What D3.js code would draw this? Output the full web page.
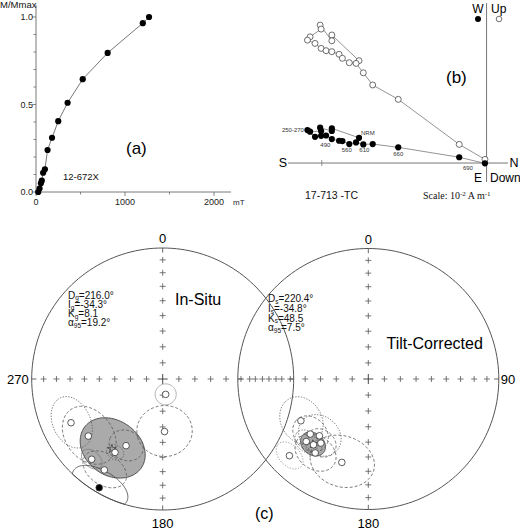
<!DOCTYPE html>
<html>
<head>
<meta charset="utf-8">
<script src="https://cdn.jsdelivr.net/npm/d3@7"></script>
<style>
  body { margin: 0; background: #fff; }
  svg { display: block; font-family: "Liberation Sans", Arial, sans-serif; }
</style>
</head>
<body>
<svg width="520" height="531"></svg>
<script>
// (a) IRM acquisition, 12-672X
const irmField = [25, 40, 55, 65, 80, 100, 130, 180, 250, 355, 525, 805, 1200, 1270];
const irmMag = [0.0, 0.02, 0.05, 0.065, 0.11, 0.13, 0.24, 0.31, 0.405, 0.51, 0.645, 0.795, 0.965, 1.0];
const irmYTicks = [0, 0.5, 1];
const irmXTicks = [0, 1000, 2000];

// (b) Zijderveld, 17-713 -TC, units of 10^-3 A/m
const zijNorth = [-7.74, -9.39, -9.39, -10.10, -10.04, -10.71, -10.87, -10.41, -10.04, -9.74,
  -9.39, -8.95, -8.75, -8.33, -7.92, -7.48, -6.91, -5.36, -1.66, -0.10];
const zijWest = [1.53, 2.10, 1.94, 2.14, 1.94, 1.90, 2.00, 1.59, 1.65, 1.67,
  1.45, 1.35, 1.33, 1.15, 1.25, 1.13, 1.15, 0.95, 0.35, -0.02];
const zijUp = [6.20, 7.76, 7.41, 8.36, 8.12, 7.65, 7.45, 7.25, 6.95, 6.81,
  6.75, 6.59, 6.35, 6.08, 6.04, 5.47, 4.73, 3.86, 1.13, 0.22];
const zijStepLabels = ["NRM", "", "", "", "", "", "250-270", "", "", "", "490", "", "", "560", "", "610", "", "660", "", "690"];

// (c) site mean directions
const insituDec = [244.5, 232.5, 208.8, 213.0, 221.5, 212.7, 210.3, 169.0, 178.0];
const insituInc = [-23.5, -29.2, -41.5, -33.6, -19.3, -18.6, 4.4, -80.3, -57.0];
const insituA95 = [14, 17, 10, 5, 6, 12, 14, 6.5, 16.5];
const insituMean = { dec: 216.0, inc: -34.3, k: 8.1, a95: 19.2 };

const tiltDec = [238.2, 225.8, 197.6, 226.5, 220.7, 224.8, 216.5, 219.8, 215.7];
const tiltInc = [-39.1, -16.8, -33.4, -38.6, -42.1, -33.0, -38.8, -34.7, -30.9];
const tiltA95 = [14, 8, 18, 11, 13, 7, 9, 5, 12];
const tiltMean = { dec: 220.4, inc: -34.8, k: 48.5, a95: 7.5 };

const netTicks = [10, 20, 30, 40, 50, 60, 70, 80];

const svg = d3.select("svg");
svg.append("rect").attr("width", 520).attr("height", 531).attr("fill", "#fff");

// ---------- (a) ----------
const drawIrm = function() {
  const x = d3.scaleLinear().domain([0, 2000]).range([36, 214]);
  const y = d3.scaleLinear().domain([0, 1]).range([192, 17]);
  const g = svg.append("g");

  g.append("line").attr("x1", x(0)).attr("x2", 231).attr("y1", y(0)).attr("y2", y(0))
    .attr("stroke", "#555").attr("stroke-width", 0.8);
  g.append("line").attr("x1", x(0)).attr("x2", x(0)).attr("y1", y(0)).attr("y2", 5)
    .attr("stroke", "#555").attr("stroke-width", 0.8);

  g.selectAll(".yt").data(d3.range(0, 11).map(i => i / 10)).enter().append("line")
    .attr("x1", d => x(0) - (irmYTicks.includes(d) ? 4 : 2.5)).attr("x2", x(0))
    .attr("y1", d => y(d)).attr("y2", d => y(d))
    .attr("stroke", "#555").attr("stroke-width", 0.7);
  g.selectAll(".xt").data(d3.range(0, 2001, 500)).enter().append("line")
    .attr("x1", d => x(d)).attr("x2", d => x(d))
    .attr("y1", y(0)).attr("y2", d => y(0) + (irmXTicks.includes(d) ? 4 : 2.5))
    .attr("stroke", "#555").attr("stroke-width", 0.7);

  g.selectAll(".yl").data(irmYTicks).enter().append("text")
    .attr("x", 33).attr("y", d => y(d) + 3.2).attr("text-anchor", "end")
    .attr("font-size", 9).attr("fill", "#222").text(d => d.toFixed(1));
  g.selectAll(".xl").data(irmXTicks).enter().append("text")
    .attr("x", d => x(d)).attr("y", 205).attr("text-anchor", "middle")
    .attr("font-size", 9).attr("fill", "#222").text(d => d);
  g.append("text").attr("x", 233).attr("y", 205).attr("font-size", 8).attr("fill", "#222").text("mT");
  g.append("text").attr("x", 0).attr("y", 8).attr("font-size", 9.5).attr("fill", "#111").text("M/Mmax");

  const pts = irmField.map((f, i) => [f, irmMag[i]]);
  g.append("path").datum(pts)
    .attr("d", d3.line().x(d => x(d[0])).y(d => y(d[1])))
    .attr("fill", "none").attr("stroke", "#555").attr("stroke-width", 0.8);
  g.selectAll("circle").data(pts).enter().append("circle")
    .attr("cx", d => x(d[0])).attr("cy", d => y(d[1])).attr("r", 3.1).attr("fill", "#000");

  g.append("text").attr("x", 126).attr("y", 154).attr("font-size", 17).text("(a)");
  g.append("text").attr("x", 63).attr("y", 180).attr("font-size", 9.5).attr("fill", "#111").text("12-672X");
};

// ---------- (b) ----------
const drawZij = function() {
  const x = d3.scaleLinear().domain([-12.05, 1.3]).range([288, 508]);
  const y = d3.scaleLinear().domain([-1.15, 9.7]).range([182, 3]);
  const g = svg.append("g");

  g.append("line").attr("x1", x(-12.05)).attr("x2", x(1.3)).attr("y1", y(0)).attr("y2", y(0))
    .attr("stroke", "#777").attr("stroke-width", 1);
  g.append("line").attr("x1", x(0)).attr("x2", x(0)).attr("y1", y(9.7)).attr("y2", y(-1.15))
    .attr("stroke", "#777").attr("stroke-width", 1);
  g.append("line").attr("x1", x(-10)).attr("x2", x(-10)).attr("y1", y(0) - 3).attr("y2", y(0) + 3)
    .attr("stroke", "#777").attr("stroke-width", 0.8);

  const line = d3.line().x(d => x(d[0])).y(d => y(d[1]));
  const hor = zijNorth.map((n, i) => [n, zijWest[i]]);
  const ver = zijNorth.map((n, i) => [n, zijUp[i]]);

  g.append("path").datum(ver).attr("d", line).attr("fill", "none").attr("stroke", "#666").attr("stroke-width", 0.7);
  g.append("path").datum(hor).attr("d", line).attr("fill", "none").attr("stroke", "#666").attr("stroke-width", 0.7);

  g.selectAll(".ver").data(ver).enter().append("circle")
    .attr("cx", d => x(d[0])).attr("cy", d => y(d[1])).attr("r", 3)
    .attr("fill", "#fff").attr("stroke", "#333").attr("stroke-width", 0.7);
  g.selectAll(".hor").data(hor).enter().append("circle")
    .attr("cx", d => x(d[0])).attr("cy", d => y(d[1])).attr("r", 3.1).attr("fill", "#000");

  const labelPos = {
    "NRM": [2, -3, "start"], "250-270": [-3.5, 2, "end"], "490": [-6.5, 7.5, "middle"],
    "560": [-2.5, 8, "middle"], "610": [1, 8, "middle"], "660": [0, 9, "middle"], "690": [-17, 7, "middle"]
  };
  zijStepLabels.forEach((t, i) => {
    if (!t) return;
    const p = labelPos[t];
    g.append("text").attr("x", x(zijNorth[i]) + p[0]).attr("y", y(zijWest[i]) + p[1])
      .attr("text-anchor", p[2]).attr("font-size", 6).attr("fill", "#333").text(t);
  });

  g.append("text").attr("x", 478).attr("y", 13).attr("text-anchor", "middle").attr("font-size", 12).text("W");
  g.append("text").attr("x", 491).attr("y", 13).attr("font-size", 12).text("Up");
  g.append("circle").attr("cx", 478).attr("cy", 19).attr("r", 3).attr("fill", "#000");
  g.append("circle").attr("cx", 499).attr("cy", 19).attr("r", 2.8).attr("fill", "#fff")
    .attr("stroke", "#333").attr("stroke-width", 0.7);
  g.append("text").attr("x", 478).attr("y", 182).attr("text-anchor", "middle").attr("font-size", 12).text("E");
  g.append("text").attr("x", 490).attr("y", 182).attr("font-size", 12).text("Down");
  g.append("text").attr("x", 283).attr("y", 167).attr("text-anchor", "middle").attr("font-size", 12.5).text("S");
  g.append("text").attr("x", 514).attr("y", 167).attr("text-anchor", "middle").attr("font-size", 12.5).text("N");
  g.append("text").attr("x", 446).attr("y", 83).attr("font-size", 17).text("(b)");
  g.append("text").attr("x", 305).attr("y", 199).attr("font-size", 10.5).attr("fill", "#111").text("17-713 -TC");

  const sc = g.append("text").attr("x", 423).attr("y", 199).attr("font-size", 10)
    .attr("font-family", "'Liberation Serif', 'Times New Roman', serif").attr("fill", "#111");
  sc.append("tspan").text("Scale: 10");
  sc.append("tspan").attr("dy", -3.5).attr("font-size", 7).text("-2");
  sc.append("tspan").attr("dy", 3.5).text(" A m");
  sc.append("tspan").attr("dy", -3.5).attr("font-size", 7).text("-1");
};

// ---------- (c) ----------
const toGeo = (dec, inc) => [180 - dec, Math.abs(inc)];

const drawNet = function(cx, cy, R, sites, mean, styles, opts) {
  const proj = d3.geoAzimuthalEqualArea().rotate([0, -90]).scale(R / Math.SQRT2)
    .translate([cx, cy]).clipAngle(90);
  const path = d3.geoPath(proj);
  const circle = d3.geoCircle().precision(3);
  const g = svg.append("g");

  g.append("path").attr("d", path({ type: "Sphere" }))
    .attr("fill", "none").attr("stroke", "#555").attr("stroke-width", 1);

  // crosses along the cardinal axes
  const crosses = [];
  [0, 90, 180, 270].forEach(dir => netTicks.forEach(inc => crosses.push(proj(toGeo(dir, inc)))));
  g.append("path")
    .attr("d", crosses.map(p => `M${p[0] - 3},${p[1]}H${p[0] + 3}M${p[0]},${p[1] - 3}V${p[1] + 3}`).join(""))
    .attr("stroke", "#555").attr("stroke-width", 0.8);
  g.append("path").attr("d", `M${cx - 5},${cy}H${cx + 5}M${cx},${cy - 5}V${cy + 5}`)
    .attr("stroke", "#333").attr("stroke-width", 0.9);
  [0, 90, 180, 270].forEach(dir => {
    const a = proj(toGeo(dir, 0));
    const b = proj(toGeo(dir, 4));
    g.append("line").attr("x1", a[0]).attr("y1", a[1]).attr("x2", b[0]).attr("y2", b[1])
      .attr("stroke", "#555").attr("stroke-width", 0.9);
  });

  // mean cone
  g.append("path").attr("d", path(circle.center(toGeo(mean.dec, mean.inc)).radius(mean.a95)()))
    .attr("fill", "#aaa").attr("stroke", "#444").attr("stroke-width", 0.9);

  // site cones
  sites.forEach((s, i) => {
    const st = styles[i];
    g.append("path").attr("d", path(circle.center(toGeo(s.dec, s.inc)).radius(s.a95)()))
      .attr("fill", "none").attr("stroke", st.c).attr("stroke-width", 0.8)
      .attr("stroke-dasharray", st.d);
  });

  const ms = proj(toGeo(mean.dec, mean.inc));
  g.append("path").attr("transform", `translate(${ms[0]},${ms[1]})`)
    .attr("d", d3.symbol(d3.symbolStar, 22)()).attr("fill", "none").attr("stroke", "#333").attr("stroke-width", 0.7);

  sites.forEach(s => {
    const p = proj(toGeo(s.dec, s.inc));
    g.append("circle").attr("cx", p[0]).attr("cy", p[1]).attr("r", 3.3)
      .attr("fill", s.inc >= 0 ? "#000" : "#fff").attr("stroke", "#333").attr("stroke-width", 0.8);
  });

  // labels
  g.append("text").attr("x", cx).attr("y", cy - R - 5).attr("text-anchor", "middle").attr("font-size", 13).text("0");
  g.append("text").attr("x", cx).attr("y", cy + R + 18).attr("text-anchor", "middle").attr("font-size", 13).text("180");
  if (opts.west) g.append("text").attr("x", cx - R - 3).attr("y", cy + 5).attr("text-anchor", "end").attr("font-size", 13).text("270");
  if (opts.east) g.append("text").attr("x", cx + R + 2).attr("y", cy + 5).attr("font-size", 13).text("90");

  g.append("text").attr("x", opts.titleX).attr("y", opts.titleY).attr("font-size", 16).text(opts.title);

  const rows = [
    ["D", opts.sub, "=" + mean.dec.toFixed(1) + "°"],
    ["I", opts.sub, "=" + mean.inc.toFixed(1) + "°"],
    ["K", opts.sub, "=" + mean.k.toFixed(1)],
    ["α", "95", "=" + mean.a95.toFixed(1) + "°"]
  ];
  rows.forEach((r, i) => {
    const t = g.append("text").attr("x", opts.statX).attr("y", opts.statY + i * opts.statGap)
      .attr("font-size", 10).attr("fill", "#111");
    t.append("tspan").text(r[0]);
    t.append("tspan").attr("dy", 1.8).attr("font-size", 6.5).text(r[1]);
    t.append("tspan").attr("dy", -1.8).text(r[2]);
  });
};

const dotted = c => ({ c: c || "#555", d: "1.3,1.5" });
const dashed = c => ({ c: c || "#555", d: "3,2" });
const solid = c => ({ c: c || "#444", d: null });

drawIrm();
drawZij();

drawNet(162.7, 379, 131,
  insituDec.map((d, i) => ({ dec: d, inc: insituInc[i], a95: insituA95[i] })), insituMean,
  [dotted(), dashed(), dashed(), dotted(), solid("#777"), dashed(), solid(), solid("#999"), dashed()],
  { west: true, sub: "g", title: "In-Situ", titleX: 175, titleY: 305, statX: 68, statY: 298.5, statGap: 9.3 });

drawNet(368.3, 379, 130.5,
  tiltDec.map((d, i) => ({ dec: d, inc: tiltInc[i], a95: tiltA95[i] })), tiltMean,
  [dotted(), dotted("#888"), dashed(), dashed(), dotted(), dotted(), dashed(), dotted(), dashed()],
  { east: true, sub: "s", title: "Tilt-Corrected", titleX: 386.5, titleY: 349, statX: 268, statY: 302, statGap: 9.8 });

svg.append("text").attr("x", 255).attr("y", 519).attr("font-size", 16).text("(c)");
</script>
</body>
</html>
